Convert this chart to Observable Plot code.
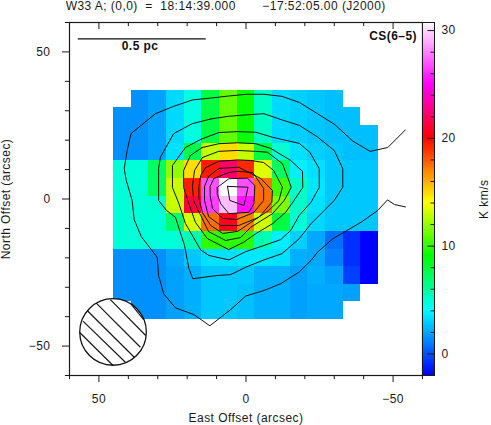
<!DOCTYPE html>
<html><head><meta charset="utf-8">
<script src="https://cdn.jsdelivr.net/npm/d3@7"></script>
<script src="https://cdn.jsdelivr.net/npm/@observablehq/plot@0.6"></script>
<style>
html,body{margin:0;padding:0;background:#fff}
#wrap{position:relative;width:491px;height:425px;overflow:hidden}
#wrap svg{position:absolute;left:0;top:0;background:transparent}
</style></head><body><div id="wrap"></div>
<script>
const cols=[42,36,30,24,18,12,6,0,-6,-12,-18,-24,-30,-36,-42];
const rows=[34,28,22,16,10,4,-2,-8,-14,-20,-26,-32,-38];
const row34=[null,1.4,1.8,3.1,4.6,7.75,10.9,9.2,5.2,3.1,2.9,2.7,2.5,null,null];
const row28=[1.4,1.4,1.8,3.1,4.6,7.75,10.9,9.2,5.2,3.1,2.9,2.7,2.5,2.5,null];
const row22=[1.4,1.4,1.8,3.1,4.6,7.75,10.9,9.2,5.2,3.1,2.9,2.7,2.5,2.5,2.5];
const row16=[1.4,1.4,1.8,3.3,7.5,12.9,14.8,12.9,7.75,4.9,3.3,2.9,2.7,2.5,2.5];
const row10=[4.76,4.76,7.1,11.8,14.8,19.4,22,19.05,13.4,7.1,3.65,3.3,2.7,2.7,2.7];
const row4=[4.76,4.76,7.1,12.9,19.25,26.8,30.75,26.8,17.4,10.25,5.08,3.46,2.7,2.7,2.7];
const rowM2=[4.76,4.76,4.9,12.9,21.2,26.4,29.3,25.4,17.4,11.5,5.08,3.27,2.7,2.7,2.7];
const rowM8=[4.76,4.76,4.76,6.8,13.2,17.4,20.6,17,13.1,7.75,4.76,3.08,2.7,2.7,2.7];
const rowM14=[4.76,4.76,4.76,4.76,5.5,9.9,9.9,9.9,5.5,3.65,2.9,1.95,0.64,-0.87,-2];
const rowM20=[1.4,1.4,1.4,1.95,2.7,3.27,3.27,3.46,3.46,3.27,2.14,1.95,1,-0.87,-2];
const rowM26=[1.4,1.4,1.4,1.76,2.14,2.7,2.7,2.7,2.14,2.14,1.76,2.14,1.76,-0.5,-2];
const rowM32=[1.4,1.4,1.4,1.76,2.14,2.7,2.7,2.52,2.14,2.14,1.76,1.95,1.95,1.76,null];
const rowM38=[null,1.4,1.4,1.76,2.14,2.7,2.7,2.52,2.14,2.14,1.76,1.95,1.95,null,null];
const grid=[row34,row28,row22,row16,row10,row4,rowM2,rowM8,rowM14,rowM20,rowM26,rowM32,rowM38];

const colorStops=[-2,4,9,14,20,25,30.75];
const colorRange=["#0000ff","#00ffff","#00ff00","#ffff00","#ff0000","#ff00ff","#ffffff"];

const contour1=[[-54.2,23.5],[-48.2,17.5],[-42.2,16.2],[-36.3,19.7],[-30.2,25.3],[-24.3,29],[-18.2,32.8],[-12.2,34.9],[-6.1,35.6],[-0.1,35.6],[6,35],[12,34.3],[18.1,33.7],[24.6,31.5],[30.8,29],[39.1,22.2],[40.4,16.5],[41.4,10.3],[40.7,6.3],[38.7,-0.5],[38,-7],[35.6,-12.8],[30.2,-19.8],[29.7,-26],[28,-32.2],[24,-37],[17.7,-39.3],[12.3,-43.1],[5.2,-37.6],[0.1,-33],[-6.1,-31.1],[-11.8,-28.8],[-18.1,-24.8],[-22.1,-20.9],[-24.3,-18.1],[-29.5,-13.5],[-34,-10.9],[-39.1,-7.9],[-44.8,-3.9],[-48.1,-0.3],[-50.5,-1.9],[-54.2,-2.7]];
const contour2=[[12,27.2],[6,28.1],[-0.1,28.6],[-6.1,29],[-12.2,26.9],[-18.2,25],[-24.3,21.1],[-30,16.5],[-32.9,10.3],[-32.9,4],[-30,-0.5],[-26.6,-3.9],[-22.1,-8.4],[-18.1,-13.5],[-12.2,-18.6],[-6.1,-20.7],[0.1,-23.2],[5.2,-25.7],[9.8,-26],[18.1,-27.1],[19.4,-23.6],[20.9,-15.8],[24,-6.2],[27,-3.9],[29.7,-0.5],[29.7,10.4],[29.1,14.2],[24.6,22.2],[18.3,25.6],[12,27.2]];
const contour3=[[15.1,20.4],[9.2,22.6],[2.9,22.9],[-3.3,22.7],[-9,21],[-18.1,18.9],[-21.7,15.9],[-24.9,10.3],[-24.9,3.9],[-22.1,-1.1],[-18.1,-5.6],[-15.2,-10.7],[-11.8,-13.8],[-6.1,-15.8],[0.1,-17.9],[5.8,-20.7],[12.6,-19.2],[15.4,-17.3],[20.6,-8.3],[22.8,-1.6],[25,3.9],[25,11.4],[20.6,17.5],[15.1,20.4]];
const contour4=[[14.9,17.5],[9.2,18.8],[2.9,19.1],[-3.3,18.8],[-8.4,17.2],[-15.2,13.1],[-19.2,9.4],[-19.3,3.9],[-16.3,-0.5],[-13.5,-4.5],[-9,-8.4],[-3.3,-11.8],[0.8,-14.7],[5.9,-17.2],[13.2,-13.4],[17.2,-7.9],[19.4,-1.6],[21.2,3.9],[21.2,9.7],[18.9,14.8],[14.9,17.5]];
const contour5=[[14.8,14.1],[9.3,16.2],[2.8,16.5],[-3.3,16.2],[-7.3,15.9],[-12.4,12],[-15.4,4],[-13,-0.5],[-9,-5],[-1.6,-9.6],[1.8,-13.1],[6.9,-14.1],[12.7,-11.1],[15.4,-5.6],[17.8,-0.5],[18.2,4.3],[17.5,9.7],[14.8,14.1]];
const contour6=[[13.7,10.7],[9.3,12.8],[2.8,13.3],[-1.6,13.1],[-6,12.4],[-9.4,9.7],[-12.4,4],[-11.2,-0.5],[-7.7,-3.9],[-1.6,-8],[2.8,-11],[7.9,-11.7],[12,-9],[14.8,-4.6],[16,0.2],[16,4.3],[15.4,8],[13.7,10.7]];
const contour7=[[12.7,7.7],[9.2,10.4],[2.5,10.8],[-5,7],[-9,2.9],[-8.8,-1.1],[-4.4,-6.2],[2.5,-9],[8.6,-9],[12.7,-6],[14.1,-0.5],[14.1,4.3],[12.7,7.7]];
const contour8=[[10.9,7],[5.9,9],[2.8,9.4],[-2.3,9],[-6,3.6],[-6,-0.5],[-2.6,-4.6],[3.2,-7],[7.9,-6.6],[11.4,-3.2],[12.2,1.2],[12.2,4.3],[10.9,7]];
const contour9=[[9.8,3.9],[5.8,6.9],[-0.5,7.1],[-3,4.6],[-2.7,-1.6],[-1,-4.5],[5.8,-5],[8.6,-1.6],[9.8,1.8],[9.8,3.9]];
const contour10=[[6.3,4.3],[-0.7,4],[0.7,-2.2],[5.5,-0.5],[6.3,4.3]];
const contours=[contour1,contour2,contour3,contour4,contour5,contour6,contour7,contour8,contour9,contour10];

const beam=[{x:45.2,y:-45.2}];
const beamRadiusPx=33.3;
const hatch=[[56.6,-45.3,45.2,-56.6],[55.4,-41.5,41,-55.5],[54,-37.9,38,-53.8],[50.9,-35.4,35.9,-50.4],[46.1,-34.2,34.1,-46.4],[39.3,-35.5,34.8,-41]];
const scaleBar=[[57.2,54.4,13.7,54.4]];

const xMajor=[50,0,-50], yMajor=[50,0,-50];
const minorTicks=[60,40,30,20,10,-10,-20,-30,-40,-60];
const barMajor=[0,10,20,30];
const barMinor=[-2,2,4,6,8,12,14,16,18,22,24,26,28];
const fmt=d=>String(d).replace("-","\u2212");
const ink="#1a1a1a";
const font="'Liberation Sans',Arial,sans-serif";
const tracking="0.45px";
const fs=12;

const cells=[];
rows.forEach((r,i)=>cols.forEach((c,j)=>{const v=grid[i][j]; if(v!=null) cells.push({c,r,v});}));
const lines=contours.flatMap((p,k)=>p.map(([x,y])=>({x,y,k})));
const colorScale={type:"linear",domain:colorStops,range:colorRange,interpolate:"rgb",clamp:true};

const main=Plot.plot({
  width:491,height:425,marginLeft:69,marginRight:69,marginTop:22,marginBottom:50,
  style:{fontFamily:font,fontSize:"12px",letterSpacing:tracking,color:ink,background:"transparent"},
  x:{domain:[60,-60],label:null},
  y:{domain:[-60,60],label:null},
  color:colorScale,
  marks:[
    Plot.rect(cells,{x1:d=>d.c+3,x2:d=>d.c-3,y1:d=>d.r-3,y2:d=>d.r+3,fill:"v",shapeRendering:"crispEdges"}),
    Plot.line(lines,{x:"x",y:"y",z:"k",stroke:"#111",strokeWidth:1,curve:"linear"}),
    Plot.dot(beam,{x:"x",y:"y",r:beamRadiusPx,fill:"white",stroke:"#111",strokeWidth:1.3}),
    Plot.link(hatch,{x1:d=>d[0],y1:d=>d[1],x2:d=>d[2],y2:d=>d[3],stroke:"#111",strokeWidth:1.1}),
    Plot.link(scaleBar,{x1:d=>d[0],y1:d=>d[1],x2:d=>d[2],y2:d=>d[3],stroke:"#111",strokeWidth:1.2}),
    Plot.text(["0.5 pc"],{x:[36],y:[52],text:d=>d,fontWeight:"bold",fontSize:fs,fill:"#111"}),
    Plot.text(["CS(6\u20135)"],{x:[-50],y:[55.2],text:d=>d,fontWeight:"bold",fontSize:fs,fill:"#111"}),
    Plot.frame({stroke:ink,strokeWidth:1.2}),
    Plot.axisX(xMajor,{anchor:"bottom",tickSize:7,tickPadding:12,tickFormat:fmt,label:null,stroke:ink,fill:ink,fontSize:fs}),
    Plot.axisY(yMajor,{anchor:"left",tickSize:7,tickPadding:12,tickFormat:fmt,label:null,stroke:ink,fill:ink,fontSize:fs}),
    Plot.ruleX(minorTicks,{y1:-60,y2:-61.4,stroke:ink}),
    Plot.ruleY(minorTicks,{x1:60,x2:61.4,stroke:ink}),
    Plot.ruleX(xMajor,{y1:60,y2:57.6,stroke:ink}),
    Plot.ruleX(minorTicks,{y1:60,y2:58.6,stroke:ink}),
    Plot.text(["W33 A; (0,0)  =  18:14:39.000       \u221217:52:05.00 (J2000)"],{x:[6.9],y:[65.6],text:d=>d,fontSize:fs,fill:ink}),
    Plot.text(["East Offset (arcsec)"],{x:[0],y:[-74.4],text:d=>d,fontSize:fs,fill:ink}),
    Plot.text(["North Offset (arcsec)"],{x:[81.5],y:[0],text:d=>d,rotate:-90,fontSize:fs,fill:ink})
  ]
});

const barLevels=d3.range(-2,30.75,0.1);
const bar=Plot.plot({
  width:491,height:425,marginLeft:422,marginRight:57,marginTop:22,marginBottom:50,
  style:{fontFamily:font,fontSize:"12px",letterSpacing:tracking,color:ink,background:"transparent"},
  x:{domain:[0,1],axis:null},
  y:{domain:[-2,30.75],label:null},
  color:colorScale,
  marks:[
    Plot.rect(barLevels,{x1:0,x2:1,y1:d=>d,y2:d=>d+0.1,fill:d=>d,shapeRendering:"crispEdges"}),
    Plot.frame({stroke:ink,strokeWidth:1}),
    Plot.axisY(barMajor,{anchor:"right",tickSize:0,tickPadding:7,tickFormat:fmt,label:null,fill:ink,fontSize:fs}),
    Plot.ruleY(barMajor,{x1:1,x2:0.45,stroke:ink}),
    Plot.ruleY(barMinor,{x1:1,x2:0.7,stroke:ink}),
    Plot.text(["K km/s"],{x:[5.1],y:[14.35],text:d=>d,rotate:-90,fontSize:fs,fill:ink})
  ]
});
const w=document.getElementById("wrap");
w.append(main,bar);
</script></body></html>
